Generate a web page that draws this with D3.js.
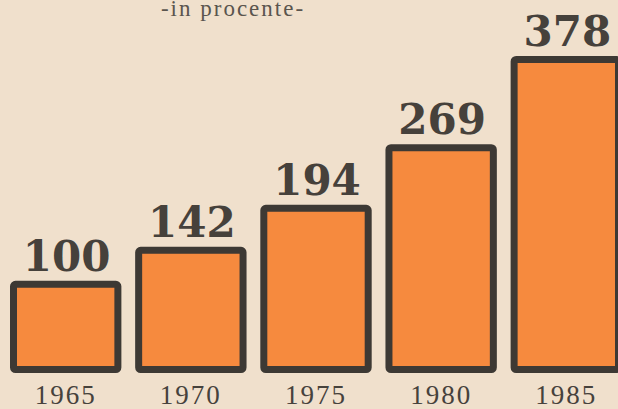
<!DOCTYPE html>
<html>
<head>
  <meta charset="utf-8">
  <title>in procente</title>
  <script src="https://d3js.org/d3.v7.min.js"></script>
  <style>
    html, body {
      margin: 0;
      padding: 0;
      background: #f0e0cc;
      overflow: hidden;
    }
    .year {
      font: 27px "Liberation Serif", "DejaVu Serif", serif;
      letter-spacing: 2px;
      fill: #46423c;
    }
    .value {
      font: bold 42px "DejaVu Serif", serif;
      fill: #46413b;
    }
    .title {
      font: 23px "Liberation Serif", serif;
      letter-spacing: 2px;
      fill: #5a554e;
    }
  </style>
</head>
<body>
  <svg width="618" height="409"></svg>
  <script>
    // data
    const years = ["1965", "1970", "1975", "1980", "1985"];
    const values = [100, 142, 194, 269, 378];
    const titleText = "-in procente-";

    const svg = d3.select("svg");
    const border = 7;

    const x = d3.scaleBand()
      .domain(years)
      .range([10, 622])
      .paddingInner(0.11)
      .paddingOuter(0);

    // baseline sits a little below zero in the original drawing
    const y = d3.scaleLinear()
      .domain([-14, 378])
      .range([373, 56]);

    svg.append("text")
      .attr("class", "title")
      .attr("x", 233)
      .attr("y", 16)
      .attr("text-anchor", "middle")
      .text(titleText);

    const bars = svg.selectAll(".bar")
      .data(years.map((yr, i) => ({ year: yr, value: values[i] })))
      .enter().append("g")
      .attr("class", "bar");

    bars.append("rect")
      .attr("x", d => x(d.year) + border / 2)
      .attr("y", d => y(d.value) + border / 2)
      .attr("width", x.bandwidth() - border)
      .attr("height", d => y(-14) - y(d.value) - border)
      .attr("rx", 2)
      .style("fill", "#f68a3e")
      .style("stroke", "#3d3934")
      .style("stroke-width", border);

    bars.append("text")
      .attr("class", "value")
      .attr("x", d => x(d.year) + x.bandwidth() / 2 + 1)
      .attr("y", d => y(d.value) - 10)
      .attr("text-anchor", "middle")
      .text(d => d.value);

    bars.append("text")
      .attr("class", "year")
      .attr("x", d => x(d.year) + x.bandwidth() / 2)
      .attr("y", 404)
      .attr("text-anchor", "middle")
      .text(d => d.year);
  </script>
</body>
</html>
